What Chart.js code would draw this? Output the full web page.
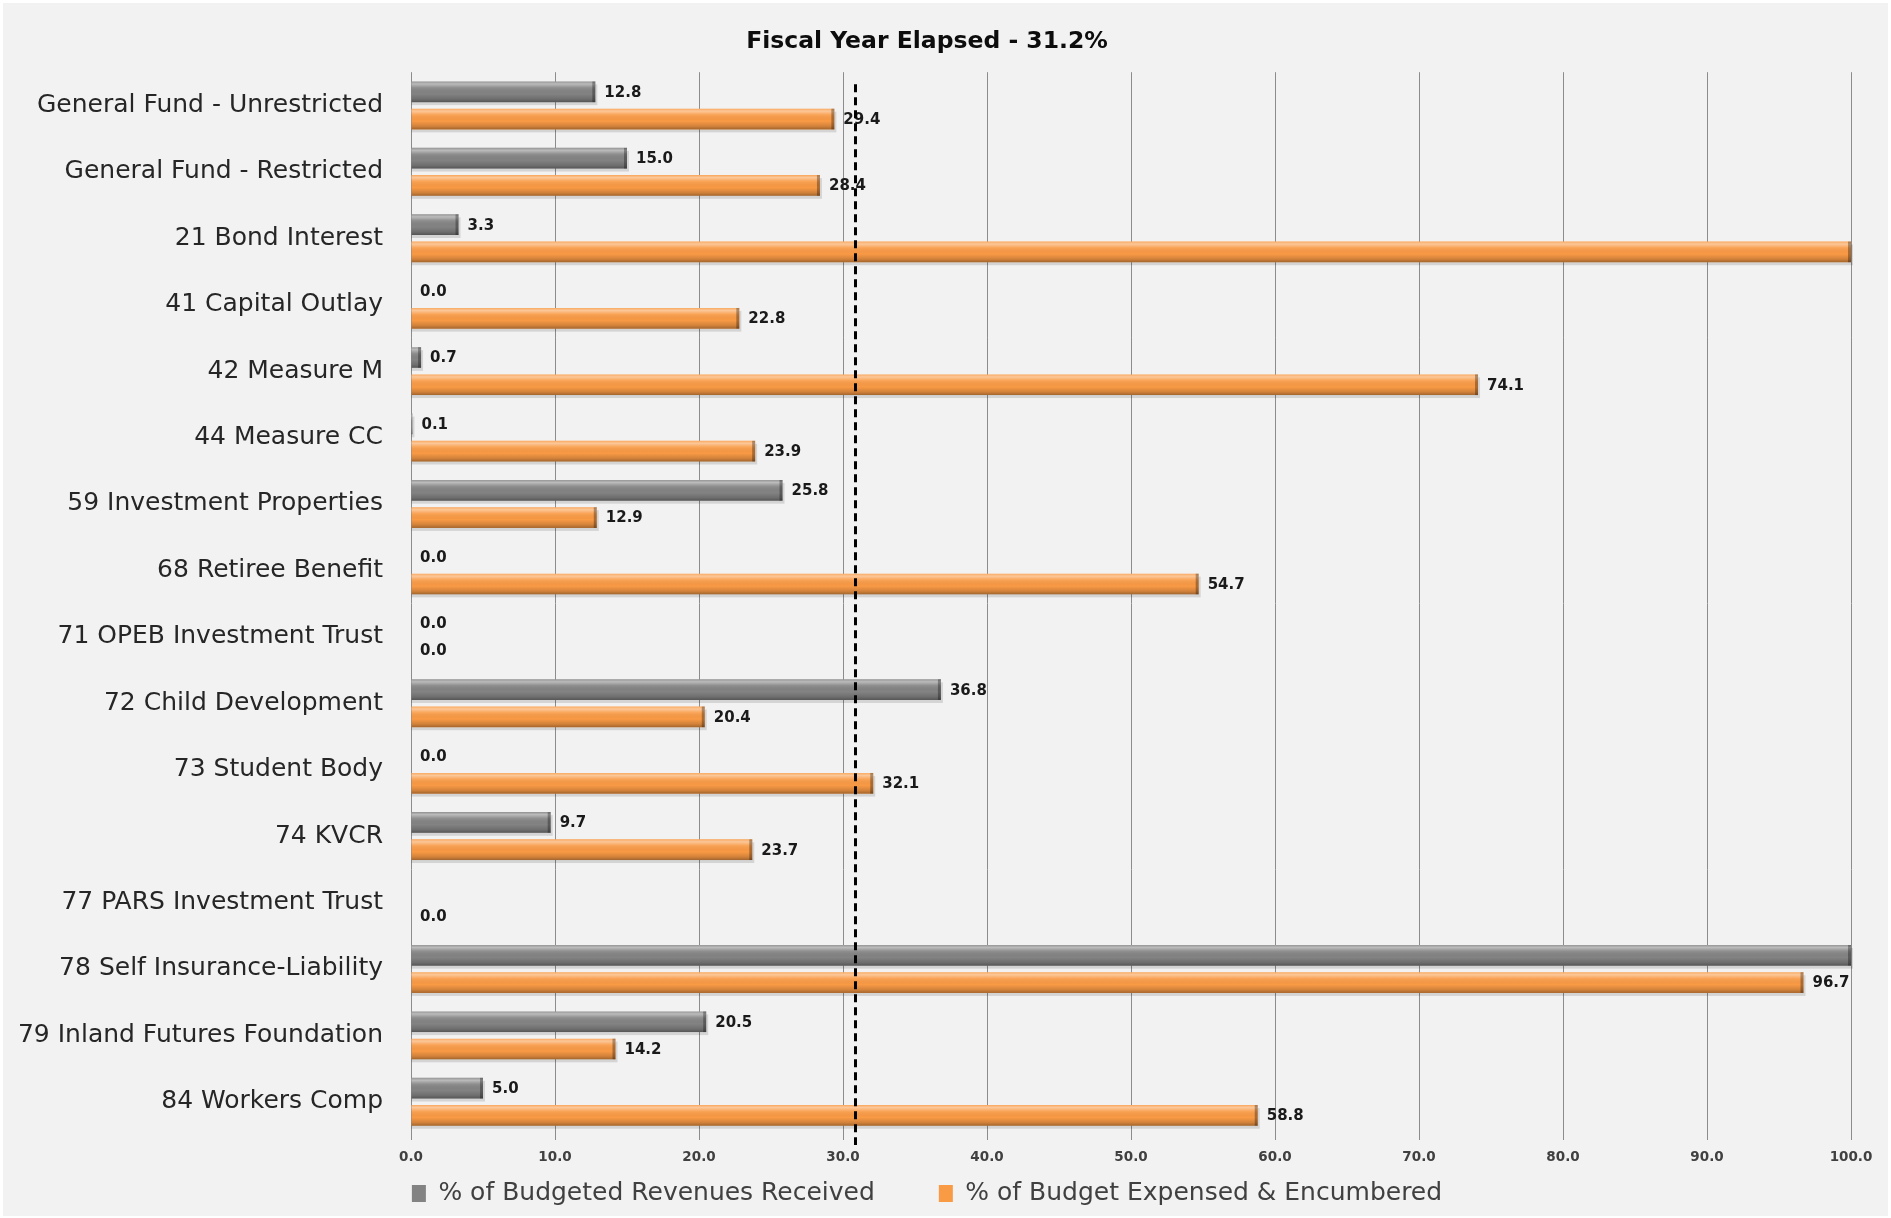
<!DOCTYPE html>
<html>
<head>
<meta charset="utf-8">
<title>Fiscal Year Elapsed</title>
<script src="https://cdn.jsdelivr.net/npm/chart.js@4.4.1/dist/chart.umd.min.js"></script>
<style>
    html, body { margin: 0; padding: 0; background: #ffffff; }
    #wrap { position: absolute; left: 3px; top: 3px; width: 1885px; height: 1213px; background: #f2f2f2; }
</style>
</head>
<body>
<div id="wrap"><canvas id="budgetChart"></canvas></div>
<script>
// Chart data (percent of budget)
const categories = [
    'General Fund - Unrestricted',
    'General Fund - Restricted',
    '21 Bond Interest',
    '41 Capital Outlay',
    '42 Measure M',
    '44 Measure CC',
    '59 Investment Properties',
    '68 Retiree Benefit',
    '71 OPEB Investment Trust',
    '72 Child Development',
    '73 Student Body',
    '74 KVCR',
    '77 PARS Investment Trust',
    '78 Self Insurance-Liability',
    '79 Inland Futures Foundation',
    '84 Workers Comp'
];
const revenuesReceived = [12.8, 15.0, 3.3, 0.0, 0.7, 0.1, 25.8, 0.0, 0.0, 36.8, 0.0, 9.7, null, 100.0, 20.5, 5.0];
const budgetExpensed   = [29.4, 28.4, 100.0, 22.8, 74.1, 23.9, 12.9, 54.7, 0.0, 20.4, 32.1, 23.7, 0.0, 96.7, 14.2, 58.8];
const xTicks = [0, 10, 20, 30, 40, 50, 60, 70, 80, 90, 100];
const fiscalYearElapsed = 31.2;   // shown in the title
const elapsedMarker = 30.8;       // where the dashed marker sits on the axis

const FONT = "'DejaVu Sans', 'Liberation Sans', Arial, sans-serif";

// soft drop shadow under each bar
const barShadow = {
    id: 'barShadow',
    beforeDatasetsDraw(chart) {
        const ctx = chart.ctx;
        ctx.save();
        ctx.fillStyle = 'rgba(0, 0, 0, 0.12)';
        chart.data.datasets.forEach((ds, di) => {
            chart.getDatasetMeta(di).data.forEach((bar, i) => {
                if (ds.data[i] === null || ds.data[i] <= 0) return;
                const top = bar.y - bar.height / 2;
                ctx.fillRect(bar.base, top + 3, bar.x - bar.base + 2, bar.height);
            });
        });
        ctx.restore();
    }
};

// glossy cylinder look on top of the flat bars
const barGloss = {
    id: 'barGloss',
    afterDatasetsDraw(chart) {
        const ctx = chart.ctx;
        const area = chart.chartArea;
        ctx.save();
        ctx.beginPath();
        ctx.rect(area.left, area.top, area.right - area.left, area.bottom - area.top);
        ctx.clip();
        chart.data.datasets.forEach((ds, di) => {
            chart.getDatasetMeta(di).data.forEach((bar, i) => {
                if (ds.data[i] === null || ds.data[i] <= 0) return;
                const top = bar.y - bar.height / 2;
                const h = bar.height;
                const w = bar.x - bar.base;
                const g = ctx.createLinearGradient(0, top, 0, top + h);
                g.addColorStop(0, 'rgba(255,255,255,0.15)');
                g.addColorStop(0.12, 'rgba(255,255,255,0.45)');
                g.addColorStop(0.3, 'rgba(255,255,255,0.10)');
                g.addColorStop(0.6, 'rgba(0,0,0,0)');
                g.addColorStop(0.85, 'rgba(0,0,0,0.16)');
                g.addColorStop(1, 'rgba(0,0,0,0.35)');
                ctx.fillStyle = g;
                ctx.fillRect(bar.base, top, w, h);
                if (w > 4) {
                    ctx.fillStyle = 'rgba(0,0,0,0.3)';
                    ctx.fillRect(bar.x - 3, top, 3, h);
                }
            });
        });
        ctx.restore();
    }
};

// value labels at the end of each bar (none for bars running off the axis)
const valueLabels = {
    id: 'valueLabels',
    afterDatasetsDraw(chart) {
        const ctx = chart.ctx;
        const xMax = chart.scales.x.max;
        ctx.save();
        ctx.font = 'bold 15px ' + FONT;
        ctx.fillStyle = '#1a1a1a';
        ctx.textAlign = 'left';
        ctx.textBaseline = 'middle';
        chart.data.datasets.forEach((ds, di) => {
            chart.getDatasetMeta(di).data.forEach((bar, i) => {
                const v = ds.data[i];
                if (v === null || v >= xMax) return;
                ctx.fillText(v.toFixed(1), bar.x + 9, bar.y + 1);
            });
        });
        ctx.restore();
    }
};

// dashed vertical line for fiscal year elapsed
const elapsedLine = {
    id: 'elapsedLine',
    afterDatasetsDraw(chart) {
        const ctx = chart.ctx;
        const area = chart.chartArea;
        const x = Math.round(chart.scales.x.getPixelForValue(elapsedMarker)) + 0.5;
        ctx.save();
        ctx.strokeStyle = '#000000';
        ctx.lineWidth = 3;
        ctx.setLineDash([8, 5]);
        ctx.beginPath();
        ctx.moveTo(x, area.top + 12);
        ctx.lineTo(x, area.bottom + 10);
        ctx.stroke();
        ctx.restore();
    }
};

const ctx = document.getElementById('budgetChart').getContext('2d');
new Chart(ctx, {
    type: 'bar',
    data: {
        labels: categories,
        datasets: [{
            label: '% of Budgeted Revenues Received',
            data: revenuesReceived,
            backgroundColor: '#838383',
            borderWidth: 0,
            categoryPercentage: 0.82,
            barPercentage: 0.76
        }, {
            label: '% of Budget Expensed & Encumbered',
            data: budgetExpensed,
            backgroundColor: '#f99a45',
            borderWidth: 0,
            categoryPercentage: 0.82,
            barPercentage: 0.76
        }]
    },
    options: {
        indexAxis: 'y',
        responsive: true,
        maintainAspectRatio: false,
        animation: false,
        layout: { padding: { left: 0, right: 37, top: 0, bottom: 0 } },
        plugins: {
            title: {
                display: true,
                text: 'Fiscal Year Elapsed - ' + fiscalYearElapsed.toFixed(1) + '%',
                color: '#0d0d0d',
                font: { family: FONT, size: 23.5, weight: 'bold' },
                padding: { top: 25, bottom: 16 }
            },
            legend: {
                position: 'bottom',
                labels: {
                    color: '#404040',
                    font: { family: FONT, size: 25 },
                    boxWidth: 14,
                    boxHeight: 17,
                    padding: 14,
                    generateLabels(chart) {
                        const items = Chart.defaults.plugins.legend.labels.generateLabels(chart);
                        items[0].text += '\u2003\u2003';
                        return items;
                    }
                }
            },
            tooltip: { enabled: false }
        },
        scales: {
            x: {
                min: 0,
                max: 100,
                afterBuildTicks(scale) {
                    scale.ticks = xTicks.map(v => ({ value: v }));
                },
                afterFit(scale) { scale.height = 32; },
                ticks: {
                    color: '#404040',
                    font: { family: FONT, size: 13.5, weight: 'bold' },
                    padding: 9,
                    maxRotation: 0,
                    callback: (v) => Number(v).toFixed(1)
                },
                grid: { color: '#8c8c8c', lineWidth: 1, tickLength: 5 },
                border: { display: false }
            },
            y: {
                afterFit(scale) { scale.width = 408; },
                ticks: {
                    color: '#262626',
                    font: { family: FONT, size: 25 },
                    padding: 28
                },
                grid: { display: false, drawTicks: false },
                border: { display: false }
            }
        }
    },
    plugins: [barShadow, barGloss, valueLabels, elapsedLine]
});
</script>
</body>
</html>
